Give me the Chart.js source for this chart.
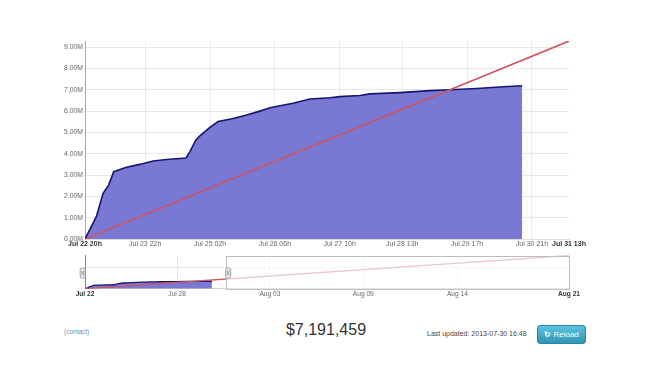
<!DOCTYPE html>
<html><head><meta charset="utf-8">
<script src="https://cdn.jsdelivr.net/npm/chart.js@4.4.0/dist/chart.umd.min.js"></script>
<style>
html,body{margin:0;padding:0;background:#fff;width:650px;height:382px;overflow:hidden;font-family:'Liberation Sans',Arial,sans-serif}
canvas{position:absolute;left:0}
#main{top:0}
#nav{top:250px}
.t{position:absolute;white-space:nowrap}
#btn{position:absolute;left:537px;top:325px;width:47px;height:17px;border-radius:3px;border:1px solid #2a87a3;
background:linear-gradient(#5cc1df,#2f96b4);color:#fff;font-size:8px;line-height:17px;text-align:center;font-family:'Liberation Sans',Arial,sans-serif}
</style></head><body>
<canvas id="main" width="650" height="250"></canvas>
<canvas id="nav" width="650" height="55"></canvas>
<div class="t" style="left:64px;top:329px;font-size:6.5px;line-height:6.5px;color:#6b8fc8">(contact)</div>
<div class="t" id="total" style="left:246px;width:160px;text-align:center;top:322px;font-size:16px;line-height:16px;color:#333"></div>
<div class="t" style="left:427px;top:329.5px;font-size:7px;line-height:7px;color:#444">Last updated: 2013-07-30 16:48</div>
<div id="btn"><b>&#8635;</b> Reload</div>
<script>
// hours since Jul 22 20h
const HOURS = [0, 4.9, 7.8, 10.2, 12.4, 17.9, 23.6, 29.4, 35.2, 43.6, 45.3, 47.9, 49.6, 51.8, 53.9, 57.5, 63.5, 69.8, 75.5, 79.9, 84.2, 89.9, 97.1, 105.8, 110, 118.8, 123, 136, 149, 157.6, 169.2, 180.7, 188.8];
const RAISED = [0, 1050000, 2140000, 2530000, 3160000, 3370000, 3500000, 3660000, 3730000, 3800000, 4100000, 4650000, 4840000, 5040000, 5240000, 5510000, 5640000, 5820000, 6000000, 6160000, 6250000, 6370000, 6570000, 6630000, 6680000, 6730000, 6810000, 6870000, 6960000, 7000000, 7060000, 7140000, 7191459];
const GOAL_HOURS = [0, 720];
const GOAL_AMOUNTS = [0, 32000000];
const MAIN_TICK_HOURS = [0, 26, 54, 82, 110, 137, 165, 193, 209];
const MAIN_TICK_LABELS = ['Jul 22 20h','Jul 23 22h','Jul 25 02h','Jul 26 06h','Jul 27 10h','Jul 28 13h','Jul 29 17h','Jul 30 21h','Jul 31 13h'];
const Y_TICKS = [0,1000000,2000000,3000000,4000000,5000000,6000000,7000000,8000000,9000000];
const Y_MAX = 9290000;
const NAV_TICK_HOURS = [0, 137, 275, 414, 554, 720];
const NAV_TICK_LABELS = ['Jul 22','Jul 28','Aug 03','Aug 09','Aug 14','Aug 21'];
const NAV_Y_TICKS = [0, 20000000];
const SELECTED = [0, 210];

const FONT = "'Liberation Sans', Arial, sans-serif";
const RED = 'rgb(204,84,98)';
const NAVY = '#16166e';
const FILL = 'rgb(121,121,212)';

document.getElementById('total').textContent = '$' + RAISED[RAISED.length-1].toLocaleString('en-US');

const raisedPts = HOURS.map((h,i)=>({x:h,y:RAISED[i]}));
const goalPts = GOAL_HOURS.map((h,i)=>({x:h,y:GOAL_AMOUNTS[i]}));
const isEnd = (c,n)=> c.index===0 || c.index===n-1;

new Chart(document.getElementById('main'), {
  type:'line',
  data:{datasets:[
    {data:goalPts, borderColor:RED, borderWidth:1.6, pointRadius:0, fill:false, order:0},
    {data:raisedPts, borderColor:NAVY, backgroundColor:FILL, borderWidth:1.6, pointRadius:0, fill:'origin', order:1}
  ]},
  options:{
    responsive:false, animation:false, events:[],
    layout:{padding:{left:0,right:81,top:41,bottom:0}},
    plugins:{legend:{display:false},tooltip:{enabled:false}},
    scales:{
      x:{type:'linear', min:0, max:209,
        afterBuildTicks:s=>{s.ticks=MAIN_TICK_HOURS.map(v=>({value:v}));},
        afterFit:s=>{s.height=11;},
        ticks:{autoSkip:false,maxRotation:0,padding:1,
          font:c=>({family:FONT,size:7,weight:isEnd(c,MAIN_TICK_HOURS.length)?'bold':'normal'}),
          color:c=>isEnd(c,MAIN_TICK_HOURS.length)?'#333':'#666',
          callback:(v,i)=>MAIN_TICK_LABELS[i]},
        grid:{drawTicks:false,color:c=>isEnd(c,MAIN_TICK_HOURS.length)?'rgba(0,0,0,0)':'#ebebeb'},
        border:{color:'#dddddd'}},
      y:{min:0,max:Y_MAX,
        afterBuildTicks:s=>{s.ticks=Y_TICKS.map(v=>({value:v}));},
        afterFit:s=>{s.width=85;},
        ticks:{padding:2,font:{family:FONT,size:6.8},color:'#666',callback:v=>(v/1e6).toFixed(2)+'M'},
        grid:{drawTicks:false,color:'#e8e8e8'},
        border:{color:'#aaaaaa'}}
    }
  }
});

function drawHandle(ctx,x,mid){
  ctx.beginPath();
  if (ctx.roundRect) ctx.roundRect(x-2.5,mid-5,5,10,1.5); else ctx.rect(x-2.5,mid-5,5,10);
  ctx.fillStyle='#f2f2f2'; ctx.fill();
  ctx.strokeStyle='#8c8c8c'; ctx.lineWidth=0.8; ctx.stroke();
  ctx.beginPath();
  ctx.moveTo(x-0.8,mid-2.5); ctx.lineTo(x-0.8,mid+2.5);
  ctx.moveTo(x+0.8,mid-2.5); ctx.lineTo(x+0.8,mid+2.5);
  ctx.stroke();
}
const navMask = {
  id:'navMask',
  afterDatasetsDraw(chart){
    const {ctx, chartArea:a, scales:{x}} = chart;
    const xL = x.getPixelForValue(SELECTED[0]), xR = x.getPixelForValue(SELECTED[1]);
    ctx.save();
    ctx.fillStyle='rgba(255,255,255,0.68)';
    ctx.fillRect(xR, a.top, a.right-xR, a.bottom-a.top);
    ctx.strokeStyle='#bdbdbd'; ctx.lineWidth=1;
    ctx.strokeRect(Math.round(xR)+0.5, Math.round(a.top)+0.5, Math.round(a.right-xR), Math.round(a.bottom-a.top));
    const mid=(a.top+a.bottom)/2+1;
    drawHandle(ctx,xL-2.3,mid);
    drawHandle(ctx,xR+2,mid);
    ctx.restore();
  }
};

new Chart(document.getElementById('nav'), {
  type:'line',
  data:{datasets:[
    {data:goalPts, borderColor:RED, borderWidth:1.3, pointRadius:0, fill:false, order:0},
    {data:raisedPts, borderColor:NAVY, backgroundColor:FILL, borderWidth:1.3, pointRadius:0, fill:'origin', order:1}
  ]},
  plugins:[navMask],
  options:{
    responsive:false, animation:false, events:[],
    layout:{padding:{left:0,right:81,top:5.5,bottom:0}},
    plugins:{legend:{display:false},tooltip:{enabled:false}},
    scales:{
      x:{type:'linear', min:0, max:720,
        afterBuildTicks:s=>{s.ticks=NAV_TICK_HOURS.map(v=>({value:v}));},
        afterFit:s=>{s.height=16.3;},
        ticks:{autoSkip:false,maxRotation:0,padding:2,
          font:c=>({family:FONT,size:6.6,weight:isEnd(c,NAV_TICK_HOURS.length)?'bold':'normal'}),
          color:c=>isEnd(c,NAV_TICK_HOURS.length)?'#333':'#666',
          callback:(v,i)=>NAV_TICK_LABELS[i]},
        grid:{drawTicks:false,color:c=>isEnd(c,NAV_TICK_HOURS.length)?'rgba(0,0,0,0)':'#e6e6e6'},
        border:{color:'#cfcfcf'}},
      y:{min:0,max:32000000,
        afterBuildTicks:s=>{s.ticks=NAV_Y_TICKS.map(v=>({value:v}));},
        afterFit:s=>{s.width=85;},
        ticks:{display:false},
        grid:{drawTicks:false,color:c=>c.index===0?'rgba(0,0,0,0)':'#e6e6e6'},
        border:{color:'#888'}}
    }
  }
});
</script>
</body></html>
